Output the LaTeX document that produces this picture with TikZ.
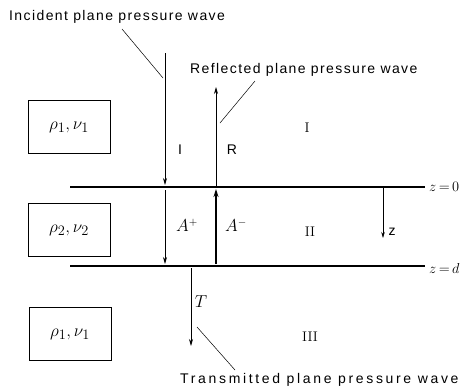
\documentclass[tikz,border=0pt]{standalone}
\usepackage{fontspec}
\setsansfont{Liberation Sans}
\newfontfamily\lblfont[LetterSpace=10]{Liberation Sans}
\newfontfamily\widelblfont[LetterSpace=19]{Liberation Sans}
\usetikzlibrary{arrows.meta}
\begin{document}
\begin{tikzpicture}[x=1pt,y=-1pt,
  lbl/.style={font=\lblfont\fontsize{14}{16}\selectfont, inner sep=0pt},
  medbox/.style={draw, line width=0.9pt, minimum width=82pt, minimum height=53pt, inner sep=0pt, font=\fontsize{19}{21}\selectfont},
  wave/.style={line width=0.7pt, -{Stealth[length=7pt,width=4pt]}},
  thickwave/.style={line width=1.3pt, -{Stealth[length=8pt,width=5pt]}},
  iface/.style={line width=1.2pt},
  leader/.style={line width=0.5pt},
  roman/.style={font=\rmfamily\fontsize{14}{16}\selectfont, inner sep=0pt},
  mathlbl/.style={font=\fontsize{16}{18}\selectfont, inner sep=0pt},
  endlbl/.style={font=\fontsize{14}{16}\selectfont, inner sep=0pt}]
\useasboundingbox (0,0) rectangle (463,389);

% interfaces
\coordinate (L0a) at (70,187); \coordinate (L0b) at (425,187);
\coordinate (Lda) at (70,266); \coordinate (Ldb) at (425,266);
\draw[iface] (L0a) -- (L0b);
\draw[iface] (Lda) -- (Ldb);
\node[endlbl, anchor=west] (z0) at (429,187) {$z\,{=}\,0$};
\node[endlbl, anchor=west] (zd) at (429,268) {$z\,{=}\,d$};

% media boxes
\node[medbox] (b1) at (69,127) {$\rho_1,\nu_1$};
\node[medbox] (b2) at (69,230) {$\rho_2,\nu_2$};
\node[medbox] (b3) at (70,334) {$\rho_1,\nu_1$};

% region labels
\node[roman] (r1) at (307,128) {I};
\node[roman] (r2) at (310,232) {II};
\node[roman] (r3) at (310,337) {III};

% incident
\coordinate (i0) at (165,53); \coordinate (i1) at (165,185);
\draw[wave] (i0) -- (i1);
\node[lbl] (il) at (180,150) {I};
\node[lbl, anchor=west] (inc) at (9,17) {Incident plane pressure wave};
\coordinate (incl0) at (122,29); \coordinate (incl1) at (163,78);
\draw[leader] (incl0) -- (incl1);

% reflected
\coordinate (r0) at (216,187); \coordinate (rr1) at (216,87);
\draw[wave] (r0) -- (rr1);
\node[lbl] (rl) at (232,150) {R};
\node[lbl, anchor=west] (ref) at (190,70) {Reflected plane pressure wave};
\coordinate (refl0) at (255,81); \coordinate (refl1) at (220,123);
\draw[leader] (refl0) -- (refl1);

% inside layer
\coordinate (ap0) at (165,190); \coordinate (ap1) at (165,264);
\draw[wave] (ap0) -- (ap1);
\node[mathlbl] (apl) at (187,225) {$A^+$};
\coordinate (am0) at (216,264); \coordinate (am1) at (216,189);
\draw[thickwave] (am0) -- (am1);
\node[mathlbl] (aml) at (236,225) {$A^-$};

% z axis
\coordinate (za) at (383,187); \coordinate (zb) at (383,238);
\draw[line width=0.6pt, -{Stealth[length=6pt,width=3.5pt]}] (za) -- (zb);
\node[lbl] (zl) at (392,232) {z};

% transmitted
\coordinate (t0) at (191,268); \coordinate (t1) at (191,346);
\draw[wave] (t0) -- (t1);
\node[mathlbl] (tl) at (201,302) {$T$};
\node[font=\widelblfont\fontsize{14}{16}\selectfont, inner sep=0pt, anchor=west] (tra) at (180,380) {Transmitted plane pressure wave};
\coordinate (tl0) at (197,327); \coordinate (tl1) at (235,370);
\draw[leader] (tl0) -- (tl1);
\end{tikzpicture}
\end{document}
